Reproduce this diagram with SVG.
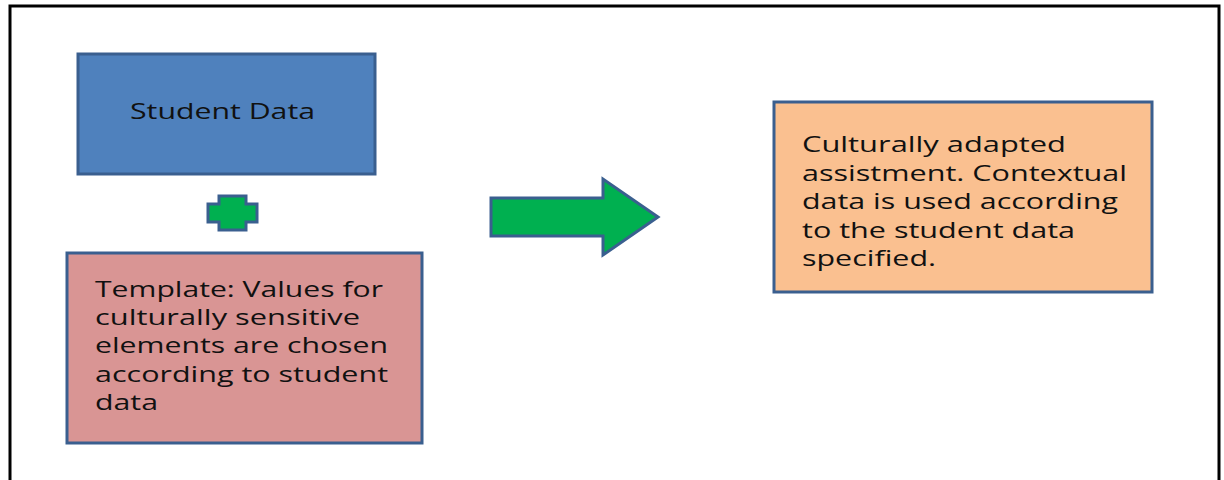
<svg xmlns="http://www.w3.org/2000/svg" width="1224" height="480" viewBox="0 0 1224 480">
<style>
.box{stroke:#3A5F8F;stroke-width:3}
.t{font-family:"Open Sans","Liberation Sans",sans-serif;font-size:22px;fill:#111}
</style>
<rect x="0" y="0" width="1224" height="480" fill="#fff"/>
<path d="M10,482 V6 H1219 V482" fill="none" stroke="#000" stroke-width="3"/>
<g id="student-data">
<rect class="box" x="78" y="54" width="297" height="120" fill="#4F81BD"/>
<text class="t" x="130" y="119" textLength="185" lengthAdjust="spacingAndGlyphs">Student Data</text>
</g>
<g id="plus">
<path class="box" d="M219,196 H246 V204 H257 V222 H246 V230 H219 V222 H208 V204 H219 Z" fill="#00B050"/>
</g>
<g id="template">
<rect class="box" x="67" y="253" width="355" height="190" fill="#D99594"/>
<text class="t" x="95" y="297" textLength="288" lengthAdjust="spacingAndGlyphs">Template: Values for</text>
<text class="t" x="95" y="325" textLength="265" lengthAdjust="spacingAndGlyphs">culturally sensitive</text>
<text class="t" x="95" y="353" textLength="293" lengthAdjust="spacingAndGlyphs">elements are chosen</text>
<text class="t" x="95" y="382" textLength="293" lengthAdjust="spacingAndGlyphs">according to student</text>
<text class="t" x="95" y="410" textLength="63" lengthAdjust="spacingAndGlyphs">data</text>
</g>
<g id="connectors">
<path class="box" d="M491,198 H603 V179 L658,217 L603,255 V236 H491 Z" fill="#00B050"/>
</g>
<g id="result">
<rect class="box" x="774" y="102" width="378" height="190" fill="#FAC090"/>
<text class="t" x="802" y="152" textLength="264" lengthAdjust="spacingAndGlyphs">Culturally adapted</text>
<text class="t" x="802" y="181" textLength="325" lengthAdjust="spacingAndGlyphs">assistment. Contextual</text>
<text class="t" x="802" y="209" textLength="316" lengthAdjust="spacingAndGlyphs">data is used according</text>
<text class="t" x="802" y="238" textLength="273" lengthAdjust="spacingAndGlyphs">to the student data</text>
<text class="t" x="802" y="266" textLength="134" lengthAdjust="spacingAndGlyphs">specified.</text>
</g>
</svg>
